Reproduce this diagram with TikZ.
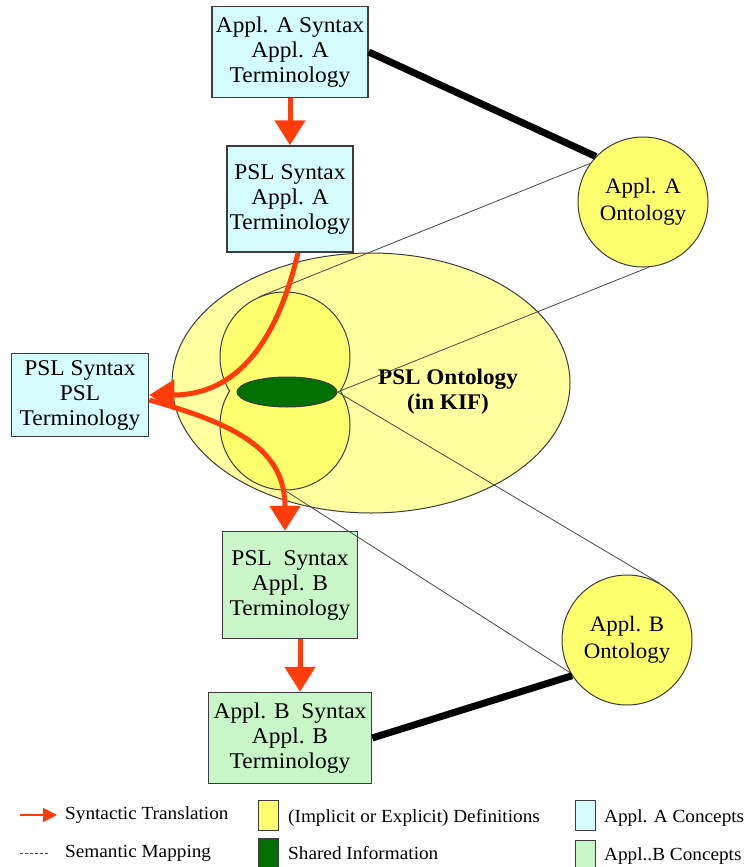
\documentclass[tikz,border=0pt]{standalone}
\usepackage{fontspec}
\setmainfont[FakeStretch=1.04]{Liberation Serif}
\usetikzlibrary{arrows.meta,shapes.geometric}
\definecolor{applA}{RGB}{212,252,252}
\definecolor{applB}{RGB}{200,246,200}
\definecolor{defs}{RGB}{255,255,110}
\definecolor{pslfill}{RGB}{255,255,160}
\definecolor{shared}{RGB}{0,112,0}
\definecolor{transred}{RGB}{255,60,10}
\definecolor{boxline}{RGB}{60,60,60}
\definecolor{mapline}{RGB}{70,70,70}
\newcommand{\boxfont}{\fontsize{22.5}{25}\selectfont}
\newcommand{\circfont}{\fontsize{22}{27}\selectfont}
\newcommand{\legfont}{\fontsize{18.5}{22}\selectfont}
\begin{document}
\begin{tikzpicture}
  [x=1pt,y=-1pt,
  box/.style={draw=boxline,line width=1.5pt,align=center,inner sep=0pt,font=\boxfont},
  conceptA/.style={box,fill=applA},
  conceptB/.style={box,fill=applB},
  onto/.style={circle,draw=boxline,fill=defs,line width=1pt,minimum size=130pt,inner sep=0pt,align=center,font=\circfont},
  translate/.style={draw=transred,line width=5pt,-{Triangle[width=30pt,length=25pt]}},
  mapping/.style={draw=mapline,line width=0.8pt},
  anchorline/.style={line width=7pt},
  legend/.style={anchor=west,font=\legfont,inner sep=0pt},
  swatch/.style={draw=boxline,line width=1pt,minimum width=20pt,minimum height=30pt,inner sep=0pt}]
  \useasboundingbox (0,0) rectangle (752,867);

  % PSL ontology with the two definition sets
  \node[ellipse,draw=boxline,fill=pslfill,line width=1pt,minimum width=398pt,minimum height=260pt] (pslOnt) at (371,383) {};
  \node[circle,draw=boxline,fill=defs,line width=1pt,minimum size=130pt] (defA) at (285,357) {};
  \node[circle,draw=boxline,fill=defs,line width=1pt,minimum size=130pt] (defB) at (285,425) {};
  \fill[defs] (defA.center) circle (64pt);
  \node[ellipse,draw=boxline,fill=shared,line width=1pt,minimum width=100pt,minimum height=30pt,inner sep=0pt] (sharedInfo) at (287,392) {};
  \node[font=\fontsize{22.3}{25}\selectfont\bfseries,align=center] (pslLabel) at (448,392) {PSL Ontology\\(in KIF)};

  % application ontologies
  \node[onto] (ontA) at (643,202) {Appl. A\\Ontology};
  \node[onto] (ontB) at (627,640) {Appl. B\\Ontology};

  % concept boxes
  \node[conceptA,minimum width=156pt,minimum height=91pt] (aSyn) at (290,52) {Appl. A Syntax\\Appl. A\\Terminology};
  \node[conceptA,minimum width=126pt,minimum height=106pt] (aPsl) at (290,199) {PSL Syntax\\Appl. A\\Terminology};
  \node[conceptA,minimum width=137pt,minimum height=83pt] (pslSyn) at (80,395) {PSL Syntax\\PSL\\Terminology};
  \node[conceptB,minimum width=135pt,minimum height=107pt] (bPsl) at (290,585) {PSL\ \ Syntax\\Appl. B\\Terminology};
  \node[conceptB,minimum width=163pt,minimum height=91pt] (bSyn) at (290,738) {Appl. B\ \ Syntax\\Appl. B\\Terminology};

  % semantic mappings
  \draw[mapping] (ontA.144) -- (defA.113);
  \draw[mapping] (ontA.-85) -- (sharedInfo.east);
  \draw[mapping] (sharedInfo.east) -- (ontB.60);
  \draw[mapping] (defB.south) -- (ontB.210);
  \draw[anchorline] (aSyn.east) -- (ontA.136);
  \draw[anchorline] (bSyn.east) -- (ontB.213);

  % syntactic translations
  \draw[translate] (aSyn.south) -- (aPsl.north);
  \draw[translate] ([xshift=8pt]aPsl.south) .. controls +(-20,85) and +(90,0) .. (pslSyn.east);
  \draw[translate] ([yshift=-5pt]pslSyn.east) .. controls +(90,25) and +(0,-80) .. ([xshift=-5pt]bPsl.north);
  \draw[translate] ([xshift=10pt]bPsl.south) -- ([xshift=10pt]bSyn.north);

  % legend
  \coordinate (legArrS) at (20,815);
  \coordinate (legArrE) at (57,815);
  \draw[draw=transred,line width=2pt,-{Triangle[width=14pt,length=14pt]}] (legArrS) -- (legArrE);
  \node[legend] (legTrans) at (65,815) {Syntactic Translation};
  \coordinate (legDashS) at (20,853);
  \coordinate (legDashE) at (48,853);
  \draw[mapping,dash pattern=on 3pt off 2pt] (legDashS) -- (legDashE);
  \node[legend] (legMap) at (65,853) {Semantic Mapping};
  \node[swatch,fill=defs] (swDefs) at (268,815) {};
  \node[legend] (legDefs) at (288,818) {(Implicit or Explicit) Definitions};
  \node[swatch,fill=shared] (swShared) at (268,853) {};
  \node[legend] (legShared) at (288,853) {Shared Information};
  \node[swatch,fill=applA] (swA) at (585,815) {};
  \node[legend] (legA) at (604,818) {Appl. A Concepts};
  \node[swatch,fill=applB] (swB) at (585,855) {};
  \node[legend] (legB) at (604,856) {Appl..B Concepts};
\end{tikzpicture}
\end{document}
